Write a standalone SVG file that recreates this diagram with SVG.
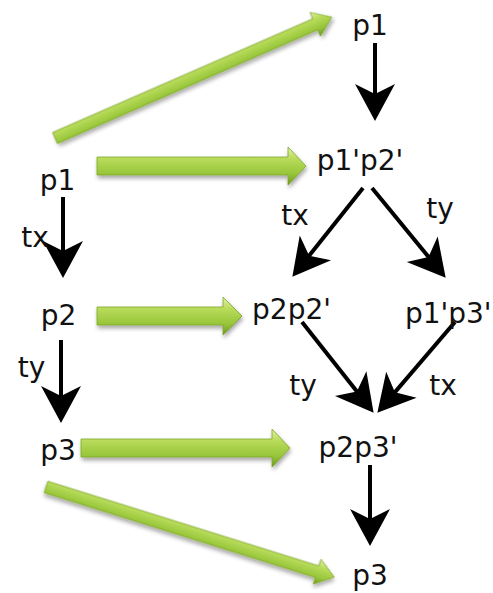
<svg xmlns="http://www.w3.org/2000/svg" width="493" height="593" viewBox="0 0 493 593">
<style>
text{font-family:"DejaVu Sans","Liberation Sans",sans-serif;font-size:28px;fill:#111;text-anchor:middle}
.blk{stroke:#000;stroke-width:4;fill:none;marker-end:url(#head)}
.grn{fill:url(#gg);stroke:#7da52c;stroke-width:0.8;filter:url(#sh)}
</style>
<defs>
<marker id="head" markerUnits="userSpaceOnUse" markerWidth="40" markerHeight="42" refX="26" refY="0" viewBox="0 -21 40 42" orient="auto" overflow="visible">
<path d="M37,0 L0,-20 L10,0 L0,20 Z" fill="#000"/>
</marker>
<linearGradient id="gg" x1="0" y1="0" x2="0" y2="1">
<stop offset="0" stop-color="#e2f2a6"/>
<stop offset="0.3" stop-color="#b9dc5c"/>
<stop offset="0.7" stop-color="#98c63a"/>
<stop offset="1" stop-color="#6c9a22"/>
</linearGradient>
<filter id="sh" x="-10%" y="-50%" width="120%" height="200%">
<feGaussianBlur in="SourceAlpha" stdDeviation="2"/>
<feOffset dx="1" dy="3" result="b"/>
<feComponentTransfer><feFuncA type="linear" slope="0.35"/></feComponentTransfer>
<feMerge><feMergeNode/><feMergeNode in="SourceGraphic"/></feMerge>
</filter>
</defs>
<g id="connectors">
<path class="grn" transform="translate(55,138) rotate(-23.6)" d="M0,-6 H284 V-13 L302,0 L284,13 V6 H0 Z"/>
<path class="grn" transform="translate(97,166)" d="M0,-9 H191 V-19 L209,0 L191,19 V9 H0 Z"/>
<path class="grn" transform="translate(97,316)" d="M0,-9 H126 V-19 L145,0 L126,19 V9 H0 Z"/>
<path class="grn" transform="translate(81,448)" d="M0,-9 H191 V-19 L209,0 L191,19 V9 H0 Z"/>
<path class="grn" transform="translate(46,487) rotate(17.35)" d="M0,-6 H284 V-13 L302,0 L284,13 V6 H0 Z"/>
<line class="blk" x1="375" y1="43" x2="375" y2="110"/>
<line class="blk" x1="63" y1="197" x2="63" y2="267"/>
<line class="blk" x1="61" y1="340" x2="61" y2="412"/>
<line class="blk" x1="370" y1="465" x2="370" y2="535"/>
<line class="blk" x1="363" y1="188" x2="299.2" y2="268.2"/>
<line class="blk" x1="372" y1="188" x2="438.7" y2="269.3"/>
<line class="blk" x1="302" y1="322" x2="366.8" y2="404.1"/>
<line class="blk" x1="455" y1="322" x2="384.5" y2="404.4"/>
</g>
<g id="labels">
<text x="35" y="247">tx</text>
<text x="31.5" y="377">ty</text>
<text x="295" y="225">tx</text>
<text x="440" y="218">ty</text>
<text x="303" y="395">ty</text>
<text x="443" y="395">tx</text>
</g>
<g id="n-p1-top"><text x="370" y="35">p1</text></g>
<g id="n-p1p2"><text x="360" y="170">p1'p2'</text></g>
<g id="n-p1-left"><text x="57.5" y="190">p1</text></g>
<g id="n-p2-left"><text x="58.5" y="325">p2</text></g>
<g id="n-p2p2"><text x="291.5" y="319">p2p2'</text></g>
<g id="n-p1p3"><text x="405" y="323" style="text-anchor:start">p1'p3'</text></g>
<g id="n-p3-left"><text x="58" y="460">p3</text></g>
<g id="n-p2p3"><text x="358" y="457">p2p3'</text></g>
<g id="n-p3-bottom"><text x="370" y="585">p3</text></g>
</svg>
